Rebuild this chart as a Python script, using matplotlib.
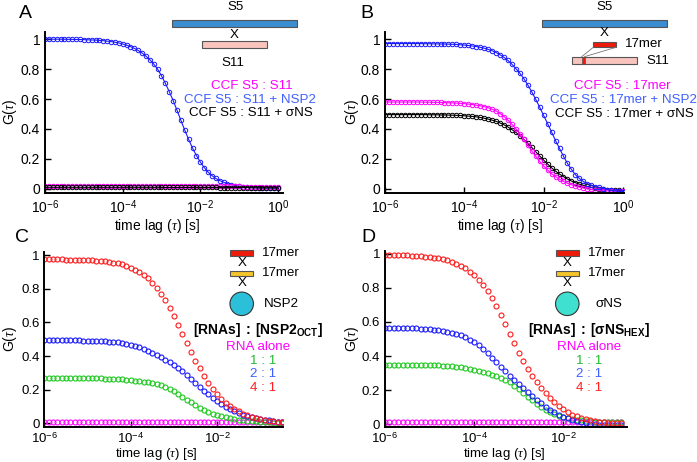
import math
import matplotlib
matplotlib.use("Agg")
import matplotlib.pyplot as plt
from matplotlib.patches import Rectangle, Ellipse
from matplotlib.lines import Line2D
from matplotlib.ticker import FixedLocator, FixedFormatter, NullLocator

plt.rcParams['font.family'] = ['Liberation Sans', 'DejaVu Sans']
plt.rcParams['mathtext.fontset'] = 'custom'
plt.rcParams['mathtext.rm'] = 'Liberation Sans'
plt.rcParams['mathtext.it'] = 'Liberation Serif:italic'
plt.rcParams['mathtext.bf'] = 'Liberation Sans:bold'

# ---------------- data ----------------
TAU = [1.00e-6, 1.26e-6, 1.58e-6, 2.00e-6, 2.51e-6, 3.16e-6, 3.98e-6, 5.01e-6, 6.31e-6, 7.94e-6,
       1.00e-5, 1.26e-5, 1.58e-5, 2.00e-5, 2.51e-5, 3.16e-5, 3.98e-5, 5.01e-5, 6.31e-5, 7.94e-5,
       1.00e-4, 1.26e-4, 1.58e-4, 2.00e-4, 2.51e-4, 3.16e-4, 3.98e-4, 5.01e-4, 6.31e-4, 7.94e-4,
       1.00e-3, 1.26e-3, 1.58e-3, 2.00e-3, 2.51e-3, 3.16e-3, 3.98e-3, 5.01e-3, 6.31e-3, 7.94e-3,
       1.00e-2, 1.26e-2, 1.58e-2, 2.00e-2, 2.51e-2, 3.16e-2, 3.98e-2, 5.01e-2, 6.31e-2, 7.94e-2,
       1.00e-1, 1.26e-1, 1.58e-1, 2.00e-1, 2.51e-1, 3.16e-1, 3.98e-1, 5.01e-1, 6.31e-1, 7.94e-1,
       1.00e0]

# Panel A: CCF S5 : S11
A_NSP2 = [1.000, 1.000, 0.999, 0.999, 0.999, 0.999, 0.998, 0.998, 0.997, 0.997,
          0.996, 0.995, 0.994, 0.993, 0.991, 0.989, 0.986, 0.983, 0.979, 0.974,
          0.967, 0.959, 0.950, 0.938, 0.924, 0.907, 0.886, 0.862, 0.833, 0.800,
          0.755, 0.705, 0.650, 0.590, 0.525, 0.458, 0.392, 0.330, 0.273, 0.223,
          0.180, 0.143, 0.113, 0.089, 0.070, 0.056, 0.045, 0.036, 0.029, 0.023,
          0.018, 0.014, 0.011, 0.009, 0.008, 0.007, 0.006, 0.005, 0.005, 0.004, 0.004]
A_ALONE = [0.022, 0.022, 0.022, 0.022, 0.022, 0.022, 0.022, 0.022, 0.022, 0.022,
           0.022, 0.022, 0.022, 0.022, 0.022, 0.022, 0.022, 0.022, 0.022, 0.022,
           0.021, 0.021, 0.021, 0.021, 0.021, 0.021, 0.021, 0.021, 0.021, 0.021,
           0.021, 0.021, 0.021, 0.021, 0.021, 0.020, 0.020, 0.020, 0.020, 0.020,
           0.020, 0.020, 0.020, 0.020, 0.020, 0.018, 0.018, 0.018, 0.018, 0.018,
           0.017, 0.016, 0.016, 0.015, 0.015, 0.014, 0.014, 0.013, 0.013, 0.013, 0.013]
A_SIGMA = [0.011, 0.011, 0.011, 0.011, 0.011, 0.011, 0.011, 0.011, 0.011, 0.011,
           0.011, 0.011, 0.011, 0.011, 0.011, 0.011, 0.011, 0.011, 0.011, 0.011,
           0.011, 0.011, 0.011, 0.011, 0.011, 0.011, 0.011, 0.011, 0.011, 0.011,
           0.010, 0.010, 0.010, 0.010, 0.010, 0.010, 0.010, 0.010, 0.010, 0.010,
           0.010, 0.010, 0.010, 0.010, 0.010, 0.009, 0.009, 0.009, 0.009, 0.009,
           0.009, 0.009, 0.009, 0.008, 0.008, 0.008, 0.008, 0.008, 0.008, 0.008, 0.008]

# Panel B: CCF S5 : 17mer
B_NSP2 = [0.970, 0.970, 0.970, 0.970, 0.970, 0.970, 0.970, 0.970, 0.970, 0.970,
          0.969, 0.969, 0.968, 0.968, 0.967, 0.967, 0.966, 0.965, 0.964, 0.962,
          0.960, 0.957, 0.954, 0.950, 0.945, 0.939, 0.931, 0.922, 0.910, 0.895,
          0.878, 0.857, 0.832, 0.802, 0.772, 0.736, 0.694, 0.648, 0.598, 0.545,
          0.490, 0.435, 0.380, 0.322, 0.270, 0.218, 0.170, 0.130, 0.095, 0.070,
          0.050, 0.036, 0.025, 0.016, 0.010, 0.003, -0.004, -0.009, -0.013, -0.016, -0.018]
B_ALONE = [0.580, 0.580, 0.580, 0.580, 0.580, 0.580, 0.580, 0.580, 0.580, 0.580,
           0.579, 0.579, 0.578, 0.578, 0.577, 0.576, 0.575, 0.574, 0.573, 0.571,
           0.569, 0.566, 0.563, 0.559, 0.555, 0.549, 0.542, 0.532, 0.520, 0.503,
           0.483, 0.459, 0.432, 0.401, 0.367, 0.330, 0.292, 0.254, 0.218, 0.184,
           0.153, 0.126, 0.102, 0.082, 0.065, 0.050, 0.038, 0.028, 0.019, 0.012,
           0.006, 0.001, -0.003, -0.006, -0.009, -0.011, -0.013, -0.014, -0.015, -0.015, -0.016]
B_SIGMA = [0.496, 0.496, 0.496, 0.496, 0.496, 0.496, 0.496, 0.496, 0.496, 0.496,
           0.496, 0.495, 0.495, 0.495, 0.494, 0.494, 0.493, 0.492, 0.491, 0.490,
           0.488, 0.486, 0.484, 0.481, 0.477, 0.472, 0.466, 0.459, 0.451, 0.440,
           0.428, 0.413, 0.396, 0.377, 0.355, 0.331, 0.304, 0.277, 0.248, 0.220,
           0.192, 0.166, 0.141, 0.119, 0.099, 0.082, 0.066, 0.053, 0.042, 0.032,
           0.024, 0.017, 0.011, 0.006, 0.002, -0.001, -0.004, -0.006, -0.008, -0.010, -0.011]

# Panel C: 17mer x 17mer x NSP2
C_ALONE = [0.008] * 56
C_11 = [0.271, 0.271, 0.271, 0.270, 0.270, 0.270, 0.270, 0.270, 0.269, 0.269,
        0.269, 0.268, 0.268, 0.267, 0.266, 0.265, 0.264, 0.263, 0.261, 0.259,
        0.257, 0.254, 0.251, 0.247, 0.243, 0.238, 0.232, 0.225, 0.216, 0.205,
        0.190, 0.175, 0.158, 0.141, 0.124, 0.108, 0.093, 0.080, 0.068, 0.058,
        0.049, 0.042, 0.035, 0.030, 0.025, 0.021, 0.018, 0.015, 0.013, 0.011,
        0.009, 0.007, 0.005, 0.004, 0.002, 0.001]
C_21 = [0.494, 0.494, 0.494, 0.494, 0.494, 0.493, 0.493, 0.493, 0.493, 0.492,
        0.492, 0.491, 0.490, 0.489, 0.488, 0.486, 0.484, 0.481, 0.477, 0.472,
        0.467, 0.460, 0.452, 0.443, 0.432, 0.420, 0.407, 0.393, 0.379, 0.364,
        0.348, 0.330, 0.309, 0.287, 0.264, 0.240, 0.217, 0.194, 0.172, 0.151,
        0.132, 0.115, 0.099, 0.085, 0.073, 0.062, 0.052, 0.044, 0.037, 0.031,
        0.026, 0.021, 0.017, 0.013, 0.010, 0.008]
C_41 = [0.975, 0.976, 0.975, 0.974, 0.974, 0.973, 0.973, 0.972, 0.972, 0.971,
        0.970, 0.969, 0.967, 0.965, 0.962, 0.959, 0.955, 0.950, 0.944, 0.936,
        0.926, 0.914, 0.900, 0.882, 0.861, 0.835, 0.806, 0.771, 0.733, 0.688,
        0.639, 0.587, 0.533, 0.477, 0.423, 0.372, 0.326, 0.280, 0.238, 0.204,
        0.174, 0.147, 0.123, 0.103, 0.086, 0.071, 0.058, 0.047, 0.038, 0.030,
        0.024, 0.019, 0.015, 0.011, 0.009, 0.007]

# Panel D: 17mer x 17mer x sigmaNS
D_ALONE = [0.013] * 54
D_11 = [0.350, 0.350, 0.350, 0.350, 0.349, 0.349, 0.349, 0.349, 0.348, 0.348,
        0.347, 0.346, 0.345, 0.344, 0.342, 0.340, 0.337, 0.334, 0.330, 0.325,
        0.319, 0.313, 0.306, 0.298, 0.289, 0.280, 0.269, 0.257, 0.245, 0.226,
        0.205, 0.183, 0.161, 0.140, 0.120, 0.101, 0.085, 0.071, 0.059, 0.049,
        0.041, 0.035, 0.030, 0.026, 0.022, 0.019, 0.017, 0.015, 0.014, 0.013,
        0.013, 0.012, 0.012, 0.012]
D_21 = [0.565, 0.565, 0.565, 0.564, 0.564, 0.563, 0.563, 0.562, 0.561, 0.559,
        0.557, 0.555, 0.552, 0.548, 0.543, 0.537, 0.530, 0.521, 0.510, 0.496,
        0.480, 0.462, 0.440, 0.415, 0.389, 0.362, 0.336, 0.310, 0.284, 0.259,
        0.235, 0.210, 0.186, 0.163, 0.141, 0.121, 0.102, 0.085, 0.069, 0.055,
        0.043, 0.033, 0.024, 0.017, 0.011, 0.006, 0.002, -0.001, -0.003, -0.004,
        -0.005, -0.006, -0.006, -0.006]
D_41 = [0.995, 0.995, 0.994, 0.994, 0.993, 0.991, 0.990, 0.988, 0.986, 0.984,
        0.981, 0.978, 0.974, 0.969, 0.962, 0.954, 0.943, 0.930, 0.915, 0.896,
        0.874, 0.847, 0.816, 0.780, 0.739, 0.693, 0.642, 0.588, 0.532, 0.475,
        0.420, 0.370, 0.325, 0.285, 0.248, 0.214, 0.182, 0.153, 0.127, 0.105,
        0.086, 0.070, 0.056, 0.045, 0.036, 0.028, 0.022, 0.018, 0.014, 0.011,
        0.009, 0.007, 0.006, 0.005]

XTICKS_AB = [1e-6, 1e-4, 1e-2, 1e0]
XTICKS_CD = [1e-6, 1e-4, 1e-2]
YTICKS = [0, 0.2, 0.4, 0.6, 0.8, 1]
YTICKLABELS = ['0', '0.2', '0.4', '0.6', '0.8', '1']

# ---------------- styling ----------------
MAG = '#ff00ff'
BLUE = '#1a1aff'
BLK = '#000000'
RED = '#ff1a1a'
GRN = '#1ec81e'
TXT_BLUE = '#4060ff'
TXT_GRN = '#22bb33'
TXT_RED = '#ff2020'
FS = 9.6

W, H = 697, 462
fig = plt.figure(figsize=(W / 100, H / 100), dpi=100)


def fx(px):
    return px / W


def fy(py):
    return 1 - py / H


def make_axes(x0, x1, y0, y1, xlim, ylim, xticks, xpad, tsize):
    ax = fig.add_axes([fx(x0), fy(y1), (x1 - x0) / W, (y1 - y0) / H])
    ax.set_xscale('log')
    ax.set_xlim(*xlim)
    ax.set_ylim(*ylim)
    ax.xaxis.set_major_locator(FixedLocator(xticks))
    ax.xaxis.set_minor_locator(NullLocator())
    ax.xaxis.set_major_formatter(FixedFormatter(
        [r'$10^{%d}$' % round(math.log10(t)) for t in xticks]))
    ax.yaxis.set_major_locator(FixedLocator(YTICKS))
    ax.yaxis.set_major_formatter(FixedFormatter(YTICKLABELS))
    for s in ('top', 'right'):
        ax.spines[s].set_visible(False)
    for s in ('left', 'bottom'):
        ax.spines[s].set_linewidth(1.4)
    ax.tick_params(direction='in', length=4, width=1.0, labelsize=tsize, pad=3.5)
    ax.tick_params(axis='x', pad=xpad)
    return ax


def rect(x0, x1, y0, y1, fc, ec='#555555', lw=0.8):
    fig.add_artist(Rectangle((fx(x0), fy(y1)), (x1 - x0) / W, (y1 - y0) / H,
                             transform=fig.transFigure, facecolor=fc, edgecolor=ec, linewidth=lw))


def txt(x, y, s, ha='center', color='black', size=FS, **kw):
    fig.text(fx(x), fy(y), s, ha=ha, va='center', color=color, fontsize=size, **kw)


def line_curve(ax, y, color):
    ax.plot(TAU[:len(y)], y, '-o', color=color, lw=0.8, ms=3.2, mfc='none', mew=0.7)


def dot_curve(ax, y, color):
    ax.plot(TAU[:len(y)], y, 'o', ls='none', color=color, ms=3.6, mfc='none', mew=0.8)


# ---------------- Panel A ----------------
axA = make_axes(45, 283, 32, 193, (1e-6, 1.35), (-0.027, 1.047), XTICKS_AB, 4, 10)
line_curve(axA, A_NSP2, BLUE)
line_curve(axA, A_ALONE, MAG)
line_curve(axA, A_SIGMA, BLK)

# ---------------- Panel B ----------------
axB = make_axes(385, 624, 32, 193, (1e-6, 1.06), (-0.027, 1.047), XTICKS_AB, 4, 10)
line_curve(axB, B_SIGMA, BLK)
line_curve(axB, B_ALONE, MAG)
line_curve(axB, B_NSP2, BLUE)

# ---------------- Panel C ----------------
axC = make_axes(44.3, 283, 251.7, 426.7, (1e-6, 0.335), (-0.02, 1.02), XTICKS_CD, 3.2, 9.5)
dot_curve(axC, C_ALONE, MAG)
dot_curve(axC, C_11, GRN)
dot_curve(axC, C_21, BLUE)
dot_curve(axC, C_41, RED)

# ---------------- Panel D ----------------
axD = make_axes(385, 626.7, 250.7, 427.3, (1e-6, 0.263), (-0.019, 1.019), XTICKS_CD, 3.2, 9.5)
dot_curve(axD, D_ALONE, MAG)
dot_curve(axD, D_11, GRN)
dot_curve(axD, D_21, BLUE)
dot_curve(axD, D_41, RED)

# axis labels
for (x, y) in [(157.5, 226), (500, 226)]:
    txt(x, y, r'time lag ($\tau$) [s]', size=10)
for (x, y) in [(156, 454.5), (504.5, 454.5)]:
    txt(x, y, r'time lag ($\tau$) [s]', size=9.5)
for (x, y) in [(10, 112), (352, 112), (10, 339), (352, 339)]:
    txt(x, y, r'G($\tau$)', size=10, rotation=90)

# panel letters
txt(25, 14, 'A', size=14)
txt(367, 14, 'B', size=14)
txt(22, 238, 'C', size=14)
txt(368, 238, 'D', size=14)

# ---- Panel A schematic ----
txt(236, 7, 'S5')
rect(172, 297, 20, 27, '#3a8dd0')
txt(234, 34.5, 'X')
rect(202, 267, 41.5, 48, '#f9c4bd')
txt(233, 63, 'S11')
txt(252, 86, 'CCF S5 : S11', color=MAG)
txt(250, 99.5, 'CCF S5 : S11 + NSP2', color=TXT_BLUE)
txt(251, 113.5, 'CCF S5 : S11 + σNS', color=BLK)

# ---- Panel B schematic ----
txt(605, 6.5, 'S5')
rect(541.7, 667.3, 20, 26.7, '#3a8dd0')
txt(604, 33.5, 'X')
rect(593.3, 616, 41.7, 47.3, '#ee1a0a')
txt(625, 44, '17mer', ha='left')
rect(571.7, 636.7, 56.7, 64, '#f9c4bd')
rect(581.7, 584.5, 56.7, 64, '#ee1a0a', lw=0.5)
fig.add_artist(Line2D([fx(593.3), fx(581.7)], [fy(47.3), fy(56.7)], transform=fig.transFigure,
                      color='#777777', lw=0.6))
fig.add_artist(Line2D([fx(616), fx(584.5)], [fy(47.3), fy(56.7)], transform=fig.transFigure,
                      color='#777777', lw=0.6))
txt(646, 60.5, 'S11', ha='left')
txt(622, 86, 'CCF S5 : 17mer', color=MAG)
txt(623, 99.5, 'CCF S5 : 17mer + NSP2', color=TXT_BLUE)
txt(624, 113.7, 'CCF S5 : 17mer + σNS', color=BLK)


# ---- Panel C / D schematics ----
def rna_schematic(xc, xl, xr, label_x, circ_color, prot_label, prot_x):
    rect(xl, xr, 250, 256, '#ee1a0a')
    txt(label_x, 253.3, '17mer', ha='left')
    txt(xc, 263.5, 'X')
    rect(xl, xr, 270.5, 276, '#f5c52a')
    txt(label_x, 273.3, '17mer', ha='left')
    txt(xc, 283.5, 'X')
    fig.add_artist(Ellipse((fx(xc), fy(303.8)), 23.5 / W, 23.5 / H, transform=fig.transFigure,
                           facecolor=circ_color, edgecolor='#333333', linewidth=0.8))
    txt(prot_x, 304, prot_label, ha='left')


rna_schematic(241.7, 230, 253.3, 262.3, '#2bbfd9', 'NSP2', 264.3)
txt(257.5, 330, r'$\mathbf{[RNAs]\ :\ [NSP2_{OCT}]}$', size=10)
txt(258, 346.7, 'RNA alone', color=MAG)
txt(263.5, 360.7, '1 : 1', color=TXT_GRN)
txt(263.5, 374.3, '2 : 1', color=TXT_BLUE)
txt(263.5, 388.3, '4 : 1', color=TXT_RED)

rna_schematic(567.3, 556, 579.3, 588.3, '#40e0d0', 'σNS', 595)
txt(589.2, 330, r'$\mathbf{[RNAs]\ :\ [σNS_{HEX}]}$', size=10)
txt(589.2, 346.7, 'RNA alone', color=MAG)
txt(589.2, 360.7, '1 : 1', color=TXT_GRN)
txt(589.2, 374.3, '2 : 1', color=TXT_BLUE)
txt(589.2, 388.3, '4 : 1', color=TXT_RED)

fig.savefig('out.png', dpi=100)
